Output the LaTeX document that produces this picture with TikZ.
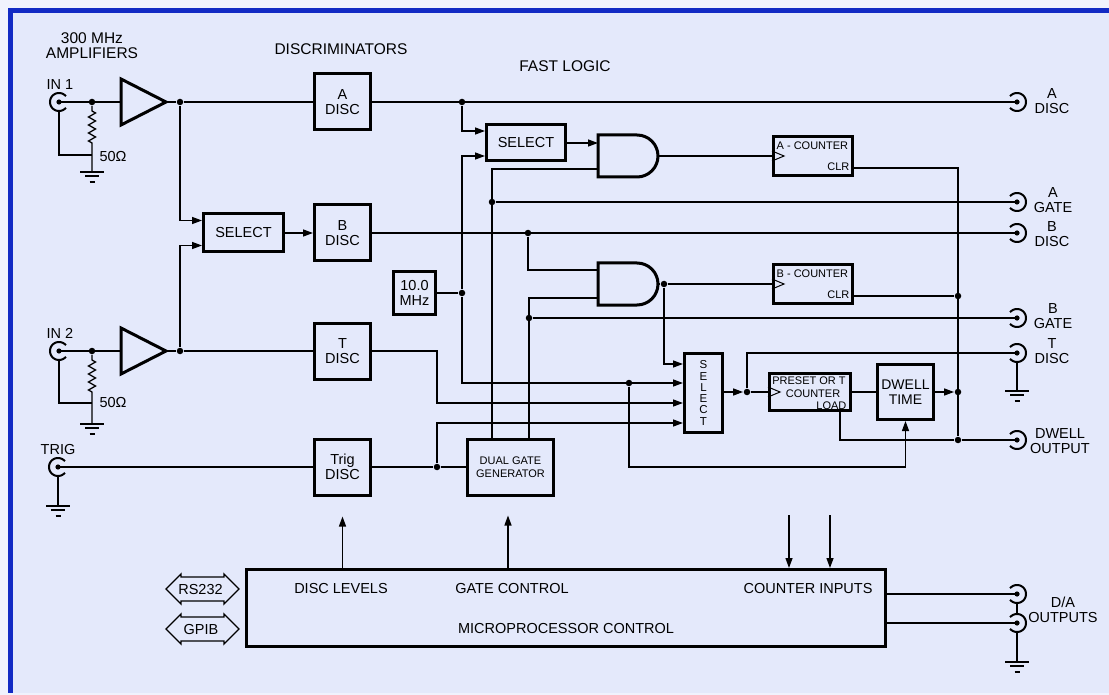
\documentclass[tikz,border=0pt]{standalone}
\usepackage{fontspec}
\setmainfont{Liberation Sans}
\usetikzlibrary{arrows.meta,calc}
\newcommand\myLbl{\fontsize{14.5}{15}\selectfont}
\newcommand\myHdr{\fontsize{15.5}{15}\selectfont}
\newcommand\mySml{\fontsize{11}{13}\selectfont}
\newcommand\mySel{\fontsize{11.5}{11.3}\selectfont}
\definecolor{bgc}{RGB}{228,233,251}
\definecolor{bordc}{RGB}{18,42,196}
\definecolor{outc}{RGB}{240,242,253}
\begin{document}
\begin{tikzpicture}[x=1pt,y=-1pt,line width=1.3pt,
  blk/.style={draw, line width=3pt, inner sep=0pt, align=center, font=\myLbl},
  dot/.style={circle, fill=black, inner sep=0pt, minimum size=6.5pt},
  arr/.style={-{Triangle[length=10pt,width=7pt]}},
  lbl/.style={inner sep=0pt, align=center, font=\myLbl},
  hdr/.style={inner sep=0pt, align=center, font=\myHdr},
  sml/.style={inner sep=0pt, align=center, font=\mySml},
  thickln/.style={line width=3pt},
  connline/.style={line width=2pt},
  bncin/.pic={\draw[connline] plot[domain=40:320,samples=37] ({9*cos(\x)},{9*sin(\x)}); \fill (0,0) circle (2.6);},
  bncout/.pic={\draw[connline] plot[domain=-140:140,samples=37] ({9*cos(\x)},{9*sin(\x)}); \fill (0,0) circle (2.6);},
  gnd/.pic={\draw (-12,0)--(12,0) (-7,4)--(7,4) (-2.5,10)--(2.5,10);},
  dbl/.pic={\draw (-36.5,0) -- (-21.5,-15) -- (-21.5,-12) -- (21.5,-12) -- (21.5,-15) -- (36.5,0) -- (21.5,15) -- (21.5,12) -- (-21.5,12) -- (-21.5,15) -- cycle;}
]
% background
\fill[outc] (0,0) rectangle (1109,695);
\fill[bordc] (8,8) rectangle (1109,693);
\fill[bgc] (13,13) rectangle (1109,693);
\useasboundingbox (0,0) rectangle (1109,695);

% headers
\node[hdr] (hamp) at (92,45.5) {300 MHz\\AMPLIFIERS};
\node[hdr] (hdisc) at (341,49) {DISCRIMINATORS};
\node[hdr] (hfast) at (565,66) {FAST LOGIC};

% blocks
\node[blk, minimum width=56pt, minimum height=56pt] (adisc) at (342.5,102) {A\\DISC};
\node[blk, minimum width=56pt, minimum height=56pt] (bdisc) at (342.5,233) {B\\DISC};
\node[blk, minimum width=56pt, minimum height=56pt] (tdisc) at (342.5,351) {T\\DISC};
\node[blk, minimum width=56pt, minimum height=56pt] (trigdisc) at (342.5,467) {Trig\\DISC};
\node[blk, minimum width=80pt, minimum height=38pt] (sel1) at (243.5,233) {SELECT};
\node[blk, minimum width=79pt, minimum height=36pt] (sel2) at (526,143) {SELECT};
\node[blk, minimum width=42pt, minimum height=42pt] (mhz) at (414.5,293) {10.0\\MHz};
\node[blk, minimum width=86pt, minimum height=56pt, font=\mySml] (dgg) at (510.5,467) {DUAL GATE\\GENERATOR};
\node[blk, minimum width=38pt, minimum height=79pt, font=\mySel] (sel3) at (703.5,393) {S\\E\\L\\E\\C\\T};
\node[blk, minimum width=79pt, minimum height=39pt] (acnt) at (813,156) {};
\node[blk, minimum width=79pt, minimum height=39pt] (bcnt) at (813,284) {};
\node[blk, minimum width=81pt, minimum height=37pt] (preset) at (810,392) {};
\node[blk, minimum width=56pt, minimum height=55pt, font=\fontsize{14}{15}\selectfont] (dwell) at (905.5,392) {DWELL\\TIME};
\node[blk, minimum width=639pt, minimum height=77pt] (micro) at (566,608) {};

% counter texts
\node[sml, anchor=west] (acntt) at (776,146) {A - COUNTER};
\node[sml, anchor=east] (acntc) at (850,167) {CLR};
\node[sml, anchor=west] (bcntt) at (776,274) {B - COUNTER};
\node[sml, anchor=east] (bcntc) at (850,295) {CLR};
\node[sml] (prt1) at (809,381) {PRESET OR T};
\node[sml] (prt2) at (813,393.5) {COUNTER};
\node[sml, anchor=east] (prt3) at (847,406) {LOAD};
\draw[line width=1pt] (acnt.west) ++(0,-5) -- ++(12,5) -- ++(-12,5);
\draw[line width=1pt] (bcnt.west) ++(0,-5) -- ++(12,5) -- ++(-12,5);
\draw[line width=1pt] (preset.west) ++(0,-5) -- ++(12,5) -- ++(-12,5);

% micro texts
\node[lbl] (tdl) at (341,589) {DISC LEVELS};
\node[lbl] (tgc) at (512,589) {GATE CONTROL};
\node[lbl] (tci) at (808,589) {COUNTER INPUTS};
\node[lbl] (tmc) at (566,629) {MICROPROCESSOR CONTROL};

% RS232 / GPIB
\pic at (202.5,589) {dbl};
\node[lbl] (rs) at (200.5,589.5) {RS232};
\pic at (202.5,629) {dbl};
\node[lbl] (gpib) at (201,629.5) {GPIB};

% ---------- IN 1 ----------
\node[lbl] (lin1) at (60,85) {IN 1};
\coordinate (in1) at (59,102);
\pic at (in1) {bncin};
\node[dot] (j1) at (92,102) {};
\coordinate (a1i) at (121,102);
\coordinate (a1o) at (166,102);
\draw[thickln, line join=miter] (121,79) -- (a1o) -- (121,125) -- cycle;
\draw (in1) -- (a1i);
\coordinate (g1) at (92,172);
\draw (j1) -- ++(0,9) -- ++(3.5,2) -- ++(-7,4) -- ++(7,4) -- ++(-7,4) -- ++(7,4) -- ++(-7,4) -- ++(7,4) -- ++(-7,4) -- ++(3.5,2) -- (g1);
\draw (in1) ++(0,9) -- (59,155) -- (92,155);
\pic at (g1) {gnd};
\node[lbl] (r1l) at (113,157) {50Ω};
\node[dot] (d1) at (180,102) {};
\draw (a1o) -- (d1) -- (adisc.west);
\draw[arr] (d1) |- ($(sel1.west)+(0,-12.5)$);

% ---------- IN 2 ----------
\node[lbl] (lin2) at (60,333) {IN 2};
\coordinate (in2) at (59,351);
\pic at (in2) {bncin};
\node[dot] (j2) at (92,351) {};
\coordinate (a2i) at (121,351);
\coordinate (a2o) at (166,351);
\draw[thickln, line join=miter] (121,328) -- (a2o) -- (121,374) -- cycle;
\draw (in2) -- (a2i);
\coordinate (g2) at (92,424);
\draw (j2) -- ++(0,9) -- ++(3.5,2) -- ++(-7,4) -- ++(7,4) -- ++(-7,4) -- ++(7,4) -- ++(-7,4) -- ++(7,4) -- ++(-7,4) -- ++(3.5,2) -- (g2);
\draw (in2) ++(0,9) -- (59,403) -- (92,403);
\pic at (g2) {gnd};
\node[lbl] (r2l) at (113,403) {50Ω};
\node[dot] (d2) at (180,351) {};
\draw (a2o) -- (d2) -- (tdisc.west);
\draw[arr] (d2) |- ($(sel1.west)+(0,12.5)$);
\draw[arr] (sel1.east) -- (bdisc.west);

% ---------- TRIG ----------
\node[lbl] (ltrig) at (58,450) {TRIG};
\coordinate (in3) at (58,467);
\pic at (in3) {bncin};
\coordinate (g3) at (58,506);
\draw (in3) -- (in3 -| trigdisc.west);
\draw (in3) ++(0,9) -- (g3);
\pic at (g3) {gnd};

% ---------- fast logic ----------
\coordinate (oad) at (1017,102);
\coordinate (oag) at (1017,202);
\coordinate (obd) at (1017,233);
\coordinate (obg) at (1017,318);
\coordinate (otd) at (1017,353);
\coordinate (odw) at (1017,440);
\coordinate (oda1) at (1017,594);
\coordinate (oda2) at (1017,623);

\node[dot] (d3) at (462,102) {};
\draw (adisc.east) -- (oad);
\draw[arr] (d3) |- ($(sel2.west)+(0,-12)$);

\node[dot] (d4) at (462,293) {};
\draw (mhz.east) -- (d4);
\draw[arr] (d4) |- ($(sel2.west)+(0,13)$);
\draw[arr] (d4) |- ($(sel3.west)+(0,-10)$);
\node[dot] (d7) at (629,383) {};

% AND gates
\coordinate (and1a) at (598,143);
\coordinate (and1b) at (598,169);
\coordinate (and1o) at (658,156);
\coordinate (and2a) at (598,270);
\coordinate (and2b) at (598,298);
\coordinate (and2o) at (658,284);
\draw[thickln] (598,135) -- (637,135) .. controls (648.6,135) and (658,144.4) .. (and1o) .. controls (658,167.6) and (648.6,177) .. (637,177) -- (598,177) -- cycle;
\draw[thickln] (598,263) -- (637,263) .. controls (648.6,263) and (658,272.4) .. (and2o) .. controls (658,295.6) and (648.6,305) .. (637,305) -- (598,305) -- cycle;
\draw[arr] (sel2.east) -- (and1a);
\draw (and1o) -- (acnt.west);

\coordinate (gA) at (492,169);
\coordinate (gB) at (529,298);
\draw (dgg.north -| gA) -- (gA) -- (and1b);
\draw (dgg.north -| gB) -- (gB) -- (and2b);
\node[dot] (d5) at (492,202) {};
\node[dot] (d6) at (529,318) {};
\draw (d5) -- (oag);
\draw (d6) -- (obg);

\draw (bdisc.east) -- (obd);
\node[dot] (d8) at (528,233) {};
\draw (d8) |- (and2a);

\node[dot] (d9) at (664,284) {};
\draw (and2o) -- (d9) -- (bcnt.west);
\draw[arr] (d9) |- ($(sel3.west)+(0,-29)$);

\coordinate (tj) at (437,351);
\draw[arr] (tdisc.east) -- (tj) |- ($(sel3.west)+(0,10)$);
\node[dot] (d10) at (437,467) {};
\draw (trigdisc.east) -- (d10) -- (dgg.west);
\draw[arr] (d10) |- ($(sel3.west)+(0,30)$);

% select out / preset / dwell
\node[dot] (d11) at (747,392) {};
\draw[arr] (sel3.east |- d11) -- (d11.west);
\draw (d11) -- (preset.west);
\draw (d11) |- (otd);
\draw (preset.east) -- (dwell.west);
\node[dot] (d12) at (958,392) {};
\node[dot] (d13) at (958,296) {};
\node[dot] (d15) at (958,440) {};
\draw[arr] (dwell.east) -- (d12.west);
\draw ($(acnt.east)+(0,12)$) -| (d15);
\draw ($(bcnt.east)+(0,12)$) -- (d13);
\draw ($(preset.south)+(30,0)$) |- (d15);
\draw (d15) -- (odw);
\draw[arr] (d7) |- (dwell.south |- d10) -- (dwell.south);

% micro arrows
\coordinate (tdtip) at ($(trigdisc.south)+(0,20)$);
\coordinate (dgtip) at ($(dgg.south)+(-2.5,19)$);
\draw[arr] (tdtip |- micro.north) -- (tdtip);
\draw[arr] (dgtip |- micro.north) -- (dgtip);
\coordinate (ci1) at (789,515);
\coordinate (ci2) at (830,515);
\draw[arr] (ci1) -- (ci1 |- micro.north);
\draw[arr] (ci2) -- (ci2 |- micro.north);
\draw (micro.east |- oda1) -- (oda1);
\draw (micro.east |- oda2) -- (oda2);

% output connectors
\pic at (oad) {bncout};
\pic at (oag) {bncout};
\pic at (obd) {bncout};
\pic at (obg) {bncout};
\pic at (otd) {bncout};
\pic at (odw) {bncout};
\pic at (oda1) {bncout};
\pic at (oda2) {bncout};
\coordinate (g4) at (1017,391);
\coordinate (g5) at (1017,662);
\draw (otd) ++(0,9) -- (g4);
\pic at (g4) {gnd};
\draw (oda1) ++(0,9) -- ($(oda2)+(0,-9)$);
\draw (oda2) ++(0,9) -- (g5);
\pic at (g5) {gnd};

% output labels
\node[lbl] (lad) at (1052,101) {A\\DISC};
\node[lbl] (lag) at (1053,200) {A\\GATE};
\node[lbl] (lbd) at (1052,234.5) {B\\DISC};
\node[lbl] (lbg) at (1053,316) {B\\GATE};
\node[lbl] (ltd) at (1052,351) {T\\DISC};
\node[lbl] (ldw) at (1060,441) {DWELL\\OUTPUT};
\node[lbl] (lda) at (1063,610) {D/A\\OUTPUTS};
\end{tikzpicture}
\end{document}
